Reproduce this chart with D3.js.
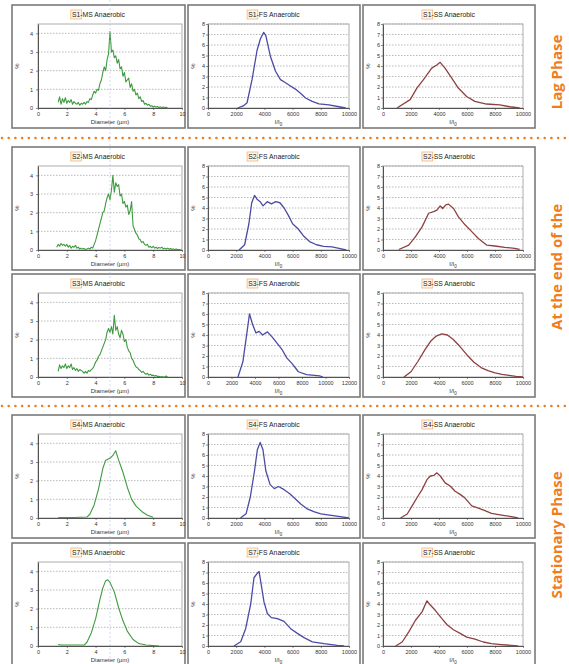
<!DOCTYPE html>
<html>
<head>
<meta charset="utf-8">
<script src="https://cdn.jsdelivr.net/npm/d3@7"></script>
<style>
  body { margin: 0; background: #fff; }
  svg { display: block; font-family: "Liberation Sans", Arial, sans-serif; }
</style>
</head>
<body>
<script>
// ---- data ----
// MS panels: % per 0.1 um diameter bin, starting at the given diameter
const s1msStart = 1.4;
const s1ms = [0.3,0.6,0.2,0.5,0.3,0.55,0.25,0.4,0.3,0.45,0.2,0.35,0.25,0.2,0.3,0.15,0.25,0.2,0.3,0.2,
  0.35,0.3,0.5,0.45,0.7,0.9,0.8,1.0,0.95,1.3,1.5,1.9,2.2,2.0,2.6,2.9,4.1,3.0,3.1,2.7,
  2.8,2.4,2.6,2.1,2.2,1.7,1.9,1.4,1.5,1.6,1.1,1.3,0.9,1.0,0.7,0.8,0.5,0.6,0.35,0.4,
  0.2,0.25,0.15,0.2,0.1,0.12,0.05,0.1,0.05,0.08,0.03,0.06,0.02,0.05,0.03,0.04,0.0];
const s2msStart = 1.3;
const s2ms = [0.15,0.3,0.2,0.35,0.25,0.3,0.2,0.3,0.15,0.25,0.1,0.2,0.15,0.25,0.1,0.15,0.05,0.1,0.05,0.08,
  0.03,0.05,0.1,0.05,0.15,0.1,0.3,0.5,0.8,1.1,1.4,1.7,2.0,2.1,2.5,2.8,3.0,2.7,3.2,4.0,
  3.1,3.6,3.4,3.5,2.9,3.0,2.5,2.6,2.3,2.4,1.9,2.1,2.6,1.3,1.1,0.9,0.8,0.6,0.55,0.4,
  0.45,0.3,0.25,0.3,0.15,0.2,0.12,0.2,0.1,0.15,0.08,0.14,0.1,0.15,0.06,0.1,0.05,0.1,0.04,0.08,
  0.03,0.06,0.02,0.05,0.02,0.03,0.01,0.0];
const s3msStart = 1.4;
const s3ms = [0.3,0.65,0.45,0.6,0.5,0.7,0.45,0.6,0.5,0.7,0.4,0.5,0.35,0.45,0.3,0.4,0.35,0.3,0.2,0.3,
  0.2,0.35,0.3,0.4,0.45,0.6,0.8,0.9,1.1,1.2,1.4,1.6,1.8,2.0,2.4,2.6,2.4,2.7,2.3,3.3,
  2.5,2.7,2.3,2.1,2.5,2.3,1.9,2.0,1.6,1.4,1.3,1.0,0.9,0.7,0.55,0.5,0.4,0.35,0.25,0.3,
  0.2,0.15,0.2,0.1,0.15,0.08,0.1,0.05,0.08,0.03,0.04,0.0,0.02,0.0,0.0,0.05,0.0];
const s4ms = [[1.4,0.02],[2.5,0.03],[3.4,0.05],[3.6,0.2],[3.9,0.7],[4.2,1.55],[4.5,2.65],[4.7,3.1],
  [5.0,3.2],[5.2,3.35],[5.4,3.6],[5.6,3.1],[5.9,2.45],[6.2,1.65],[6.5,1.0],[6.8,0.65],[7.2,0.35],
  [7.6,0.15],[8.0,0.04]];
const s7ms = [[1.4,0.08],[1.6,0.05],[2.5,0.05],[3.2,0.05],[3.4,0.2],[3.7,0.7],[4.0,1.45],[4.3,2.5],
  [4.5,3.1],[4.7,3.5],[4.85,3.55],[5.0,3.4],[5.3,2.9],[5.6,2.05],[5.9,1.35],[6.2,0.8],[6.6,0.35],
  [7.0,0.13],[7.5,0.05],[8.0,0.02],[8.4,0.0]];

// FS panels: % vs I/I0
const s1fs = [[2100,0],[2500,0.2],[2770,0.5],[3130,2.75],[3480,5.5],[3720,6.6],[3950,7.2],[4100,6.9],
  [4430,4.9],[4790,3.5],[5140,2.7],[5500,2.4],[5850,2.1],[6200,1.8],[6560,1.4],[6920,0.95],
  [7390,0.63],[7870,0.4],[8580,0.3],[9290,0.12],[9760,0]];
const s2fs = [[2200,0],[2600,0.5],[2900,2.5],[3100,4.5],[3300,5.2],[3500,4.8],[3700,4.6],[3900,4.2],
  [4200,4.6],[4500,4.4],[4800,4.6],[5100,4.5],[5400,4.0],[5700,3.3],[6000,2.5],[6400,2.0],
  [6800,1.3],[7200,0.8],[7700,0.5],[8200,0.35],[8800,0.3],[9300,0.15],[9800,0]];
const s3fs = [[2550,0],[2970,1.45],[3250,3.7],[3530,6.0],[3800,5.0],[4080,4.2],[4360,4.35],[4640,4.0],
  [5060,4.3],[5470,3.8],[5890,3.2],[6310,2.6],[6720,1.8],[7140,1.3],[7690,0.5],[8390,0.23],
  [9080,0.15],[9500,0.1],[9780,0]];
const s4fs = [[2300,0],[2700,0.4],[3000,2.0],[3300,4.5],[3500,6.5],[3700,7.2],[3900,6.5],[4100,4.5],
  [4400,3.2],[4700,2.8],[5000,3.0],[5400,2.7],[5800,2.3],[6200,1.8],[6600,1.3],[7000,0.9],
  [7500,0.6],[8000,0.4],[8500,0.3],[9000,0.2],[9500,0.1],[10000,0]];
const s7fs = [[1840,0],[2320,0.4],[2670,1.65],[3030,4.0],[3260,6.5],[3450,6.85],[3620,7.1],[3780,5.8],
  [3970,4.2],[4210,3.1],[4490,2.7],[4920,2.6],[5390,2.35],[5860,1.65],[6340,1.2],[6810,0.8],
  [7400,0.4],[8230,0.22],[9170,0.06],[9650,0]];

// SS panels: % vs I/I0
const s1ss = [[1000,0],[1940,0.8],[2420,1.9],[2890,2.7],[3480,3.8],[3840,4.1],[4080,4.35],[4430,3.8],
  [4910,2.85],[5380,1.9],[5970,1.1],[6560,0.63],[7390,0.38],[8340,0.3],[9050,0.12],[9760,0]];
const s2ss = [[1130,0.05],[1840,0.47],[2320,1.27],[2790,2.2],[3260,3.5],[3620,3.65],[3850,3.8],
  [4090,4.2],[4260,3.95],[4490,4.3],[4680,4.37],[5040,3.95],[5390,3.15],[5860,2.4],[6340,1.75],
  [6810,1.1],[7400,0.47],[7990,0.38],[8700,0.25],[9410,0.16],[9760,0.06]];
const s3ss = [[1500,0],[2000,0.5],[2500,1.5],[3000,2.6],[3400,3.4],[3800,3.9],[4200,4.1],[4600,4.0],
  [5000,3.6],[5500,2.9],[6000,2.1],[6500,1.4],[7000,0.9],[7500,0.6],[8000,0.4],[8500,0.25],
  [9000,0.15],[9500,0.05],[10000,0]];
const s4ss = [[1250,0],[1730,0.38],[2080,1.15],[2440,1.95],[2790,2.7],[3140,3.65],[3380,4.0],[3620,4.05],
  [3850,4.3],[4090,4.0],[4440,3.35],[4800,3.05],[5150,2.55],[5510,2.25],[5860,1.9],[6340,1.15],
  [6810,0.95],[7280,0.7],[7750,0.45],[8460,0.28],[9170,0.13],[9650,0]];
const s7ss = [[900,0],[1370,0.38],[1840,1.35],[2320,2.45],[2790,3.25],[3140,4.3],[3380,3.9],[3730,3.4],
  [4210,2.6],[4560,2.05],[5030,1.55],[5510,1.2],[5980,0.85],[6570,0.65],[7160,0.38],[7750,0.22],
  [8460,0.13],[9170,0.06],[9650,0]];

const sampleNames = ["S1", "S2", "S3", "S4", "S7"];
const fractionNames = ["MS", "FS", "SS"];
const msTicks = [0, 2, 4, 6, 8, 10];
const iTicks = [0, 2000, 4000, 6000, 8000, 10000];
const iTicksWide = [0, 2000, 4000, 6000, 8000, 10000, 12000];
const msYTicks = [0, 1, 2, 3, 4];
const iYTicks = [0, 1, 2, 3, 4, 5, 6, 7, 8];
const phaseLabels = ["Lag Phase", "At the end of the", "Stationary Phase"];

const gridMs = (start, vals) => vals.map((v, i) => [start + i * 0.1, v]);
const series = [
  [gridMs(s1msStart, s1ms), s1fs, s1ss],
  [gridMs(s2msStart, s2ms), s2fs, s2ss],
  [gridMs(s3msStart, s3ms), s3fs, s3ss],
  [s4ms, s4fs, s4ss],
  [s7ms, s7fs, s7ss]
];

// ---- layout ----
const W = 569, H = 664;
const rowTop = [5, 147, 274, 415, 543];
const colBox = [[12, 185], [188, 360], [363, 535]];
const plotX = [[38, 182], [208, 349], [383, 523]];
const lineColor = ["#3f9a3f", "#4b4ba6", "#8e4040"];
const orange = "#f07c1e";

const svg = d3.select("body").append("svg")
  .attr("width", W).attr("height", H)
  .attr("viewBox", [0, 0, W, H]);

function drawPanel(r, c) {
  const top = rowTop[r];
  const [bx0, bx1] = colBox[c];
  const g = svg.append("g");

  g.append("rect")
    .attr("x", bx0).attr("y", top)
    .attr("width", bx1 - bx0).attr("height", 123)
    .attr("fill", "#fff")
    .attr("stroke", "#7a7a7a").attr("stroke-width", 1.6);

  const xMax = c === 0 ? 10 : (r === 2 && c === 1 ? 12000 : 10000);
  const yMax = c === 0 ? 4.5 : 8;
  const xTicks = c === 0 ? msTicks : (xMax === 12000 ? iTicksWide : iTicks);
  const yTicks = c === 0 ? msYTicks : iYTicks;

  const x = d3.scaleLinear().domain([0, xMax]).range(plotX[c]);
  const y = d3.scaleLinear().domain([0, yMax]).range([top + 103, top + 19]);

  // title with the orange highlight round the sample name
  const cx = (bx0 + bx1) / 2;
  const title = g.append("text")
    .attr("x", cx).attr("y", top + 11.5)
    .attr("text-anchor", "middle")
    .attr("font-size", 6.8).attr("fill", "#222")
    .text(sampleNames[r] + "-" + fractionNames[c] + " Anaerobic");
  const tw = title.node().getComputedTextLength();
  const sw = title.node().getSubStringLength(0, 2);
  g.insert("rect", "text")
    .attr("x", cx - tw / 2 - 1.2).attr("y", top + 5)
    .attr("width", sw + 2.4).attr("height", 9)
    .attr("fill", "#fff6ea")
    .attr("stroke", "#f2b37a").attr("stroke-width", 0.8);

  // plot area frame
  g.append("rect")
    .attr("x", plotX[c][0]).attr("y", top + 19)
    .attr("width", plotX[c][1] - plotX[c][0]).attr("height", 84)
    .attr("fill", "none").attr("stroke", "#9a9a9a").attr("stroke-width", 0.8);

  // dotted gridlines
  g.append("g").selectAll("line")
    .data(yTicks.filter(d => d > 0))
    .join("line")
    .attr("x1", plotX[c][0]).attr("x2", plotX[c][1])
    .attr("y1", d => y(d)).attr("y2", d => y(d))
    .attr("stroke", "#9c9c9c").attr("stroke-width", 0.7)
    .attr("stroke-dasharray", "1.5,1.5");

  const xAxis = g.append("g")
    .attr("transform", `translate(0,${top + 103})`)
    .call(d3.axisBottom(x).tickValues(xTicks).tickFormat(d3.format("d"))
      .tickSize(2).tickPadding(2).tickSizeOuter(0));
  const yAxis = g.append("g")
    .attr("transform", `translate(${plotX[c][0]},0)`)
    .call(d3.axisLeft(y).tickValues(yTicks).tickFormat(d3.format("d"))
      .tickSize(2).tickPadding(c === 0 ? 3 : 1).tickSizeOuter(0));
  [xAxis, yAxis].forEach(a => {
    a.select(".domain").attr("stroke", "#444").attr("stroke-width", 0.9);
    a.selectAll(".tick line").attr("stroke", "#444").attr("stroke-width", 0.6);
    a.selectAll("text").attr("font-size", 5.5).attr("fill", "#333")
      .attr("font-family", "'Liberation Sans', Arial, sans-serif");
  });

  // y label
  g.append("text")
    .attr("transform", `translate(${bx0 + 7},${top + 61}) rotate(-90)`)
    .attr("text-anchor", "middle")
    .attr("font-size", 6).attr("fill", "#333")
    .text("%");

  // x label
  const xl = g.append("text")
    .attr("x", (plotX[c][0] + plotX[c][1]) / 2).attr("y", top + 119)
    .attr("text-anchor", "middle")
    .attr("font-size", 6).attr("fill", "#333");
  if (c === 0) {
    xl.text("Diameter (\u00b5m)");
  } else {
    xl.append("tspan").text("I/I");
    xl.append("tspan").attr("font-size", 4.5).attr("dy", 1.5).text("0");
  }

  g.append("path")
    .datum(series[r][c])
    .attr("fill", "none")
    .attr("stroke", lineColor[c])
    .attr("stroke-width", c === 0 ? 1.1 : 1.3)
    .attr("stroke-linejoin", "round")
    .attr("d", d3.line().x(d => x(d[0])).y(d => y(d[1])));
}

for (let r = 0; r < 5; r++) {
  for (let c = 0; c < 3; c++) drawPanel(r, c);
}

// faint blue guide running down through the first column
svg.append("line")
  .attr("x1", 110).attr("x2", 110).attr("y1", 0).attr("y2", H)
  .attr("stroke", "#a9c4e6").attr("stroke-width", 0.7)
  .attr("stroke-opacity", 0.8)
  .attr("stroke-dasharray", "2,2");

// orange dotted separators between phases
svg.append("g").selectAll("line")
  .data([138, 406])
  .join("line")
  .attr("x1", 2).attr("x2", W)
  .attr("y1", d => d).attr("y2", d => d)
  .attr("stroke", orange).attr("stroke-width", 2.6)
  .attr("stroke-linecap", "round")
  .attr("stroke-dasharray", "0,6.7");

// phase labels on the right
svg.append("g").selectAll("text")
  .data(phaseLabels.map((t, i) => ({ t, y: [72, 267, 535][i] })))
  .join("text")
  .attr("transform", d => `translate(562,${d.y}) rotate(-90)`)
  .attr("text-anchor", "middle")
  .attr("font-family", "'Open Sans', sans-serif")
  .attr("font-weight", "bold")
  .attr("font-size", 15)
  .attr("fill", orange)
  .text(d => d.t);
</script>
</body>
</html>
